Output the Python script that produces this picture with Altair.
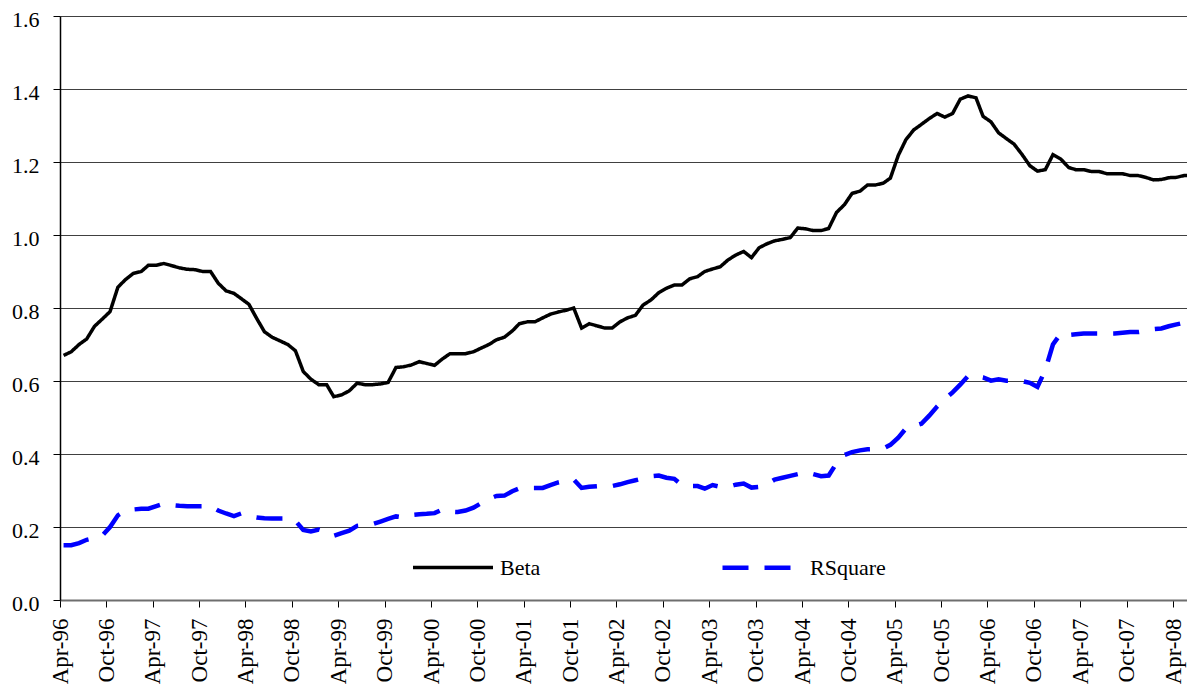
import altair as alt
import pandas as pd

# Monthly observations, Apr-96 .. Jun-08 (147 months)
start_year, start_month = 1996, 4

beta = [
    0.670, 0.680, 0.700, 0.715, 0.750, 0.770, 0.790, 0.857, 0.878, 0.895,
    0.900, 0.917, 0.917, 0.922, 0.916, 0.910, 0.906, 0.905, 0.900, 0.900,
    0.868, 0.847, 0.840, 0.826, 0.810, 0.772, 0.735, 0.720, 0.710, 0.700,
    0.683, 0.626, 0.605, 0.590, 0.590, 0.557, 0.562, 0.573, 0.594, 0.590,
    0.590, 0.592, 0.596, 0.637, 0.639, 0.644, 0.653, 0.648, 0.643, 0.660,
    0.675, 0.675, 0.675, 0.680, 0.690, 0.700, 0.713, 0.720, 0.737, 0.757,
    0.762, 0.762, 0.773, 0.783, 0.789, 0.794, 0.800, 0.745, 0.757, 0.751,
    0.745, 0.745, 0.762, 0.773, 0.780, 0.808, 0.822, 0.842, 0.854, 0.863,
    0.863, 0.880, 0.886, 0.900, 0.907, 0.913, 0.932, 0.945, 0.955, 0.938,
    0.965, 0.976, 0.984, 0.988, 0.993, 1.019, 1.017, 1.012, 1.012, 1.018,
    1.062, 1.083, 1.114, 1.120, 1.137, 1.137, 1.142, 1.156, 1.218, 1.261,
    1.288, 1.303, 1.319, 1.333, 1.323, 1.333, 1.372, 1.381, 1.376, 1.325,
    1.310, 1.280, 1.264, 1.249, 1.221, 1.190, 1.175, 1.179, 1.220, 1.208,
    1.185, 1.179, 1.179, 1.174, 1.174, 1.168, 1.168, 1.168, 1.163, 1.163,
    1.158, 1.151, 1.152, 1.157, 1.158, 1.163, 1.163,
]

rsquare = [
    0.150, 0.150, 0.156, 0.165, 0.170, 0.177, 0.200, 0.232, 0.245, 0.248,
    0.250, 0.250, 0.257, 0.264, 0.260, 0.258, 0.257, 0.257, 0.257, 0.257,
    0.245, 0.237, 0.230, 0.237, 0.230, 0.226, 0.224, 0.223, 0.223, 0.223,
    0.217, 0.192, 0.188, 0.193, 0.186, 0.176, 0.183, 0.190, 0.203, 0.205,
    0.208, 0.215, 0.222, 0.229, 0.226, 0.233, 0.235, 0.236, 0.238, 0.248,
    0.242, 0.241, 0.245, 0.253, 0.265, 0.277, 0.285, 0.286, 0.298, 0.306,
    0.307, 0.307, 0.307, 0.315, 0.322, 0.327, 0.330, 0.307, 0.310, 0.312,
    0.312, 0.312, 0.317, 0.323, 0.328, 0.333, 0.339, 0.341, 0.335, 0.332,
    0.315, 0.312, 0.312, 0.305, 0.315, 0.310, 0.310, 0.316, 0.319, 0.308,
    0.310, 0.317, 0.330, 0.335, 0.340, 0.345, 0.350, 0.345, 0.339, 0.341,
    0.375, 0.397, 0.405, 0.410, 0.413, 0.414, 0.415, 0.425, 0.445, 0.470,
    0.476, 0.483, 0.505, 0.530, 0.550, 0.569, 0.590, 0.614, 0.614, 0.610,
    0.601, 0.605, 0.601, 0.601, 0.600, 0.595, 0.584, 0.630, 0.700, 0.730,
    0.726, 0.728, 0.730, 0.730, 0.730, 0.730, 0.730, 0.732, 0.734, 0.734,
    0.737, 0.742, 0.744, 0.750, 0.755, 0.760, 0.766,
]

series_names = ["Beta", "RSquare"]
series_colors = ["#000000", "#0000FF"]
y_ticks = [0.0, 0.2, 0.4, 0.6, 0.8, 1.0, 1.2, 1.4, 1.6]

def month_date(k):
    y = start_year + (start_month - 1 + k) // 12
    m = (start_month - 1 + k) % 12 + 1
    return f"{y:04d}-{m:02d}-15"

dates = [month_date(k) for k in range(len(beta))]
df = pd.concat([
    pd.DataFrame({"date": dates, "value": beta, "series": "Beta"}),
    pd.DataFrame({"date": dates, "value": rsquare, "series": "RSquare"}),
])

tick_dates = []
for yr in range(1996, 2009):
    for mo in (4, 10):
        if (yr, mo) <= (2008, 4):
            tick_dates.append(alt.DateTime(year=yr, month=mo, date=1, utc=True))

FONT = "Liberation Serif"

legend = alt.Legend(
    title=None, orient="none", direction="horizontal",
    legendX=351, legendY=509,
    symbolType="stroke", symbolSize=6400, symbolStrokeWidth=4,
    labelFont=FONT, labelFontSize=22, labelColor="#000000",
    labelOffset=5, columnPadding=172,
)

chart = alt.Chart(df).mark_line(strokeCap="butt").encode(
    x=alt.X(
        "date:T",
        scale=alt.Scale(
            type="utc",
            domain=[alt.DateTime(year=1996, month=4, date=1, utc=True),
                    alt.DateTime(year=2008, month=5, date=26, utc=True)],
        ),
        axis=alt.Axis(
            values=tick_dates, format="%b-%y", labelAngle=-90,
            labelFont=FONT, labelFontSize=23, labelColor="#000000",
            labelPadding=11, tickSize=7, tickColor="#000000", tickWidth=1,
            domainColor="#6e6e6e", domainWidth=2, grid=False,
            labelOverlap=False, labelFlush=False, title=None,
        ),
    ),
    y=alt.Y(
        "value:Q",
        scale=alt.Scale(domain=[0, 1.6], nice=False, zero=True),
        axis=alt.Axis(
            values=y_ticks, format=".1f",
            labelFont=FONT, labelFontSize=22, labelColor="#000000",
            labelPadding=14, labelOffset=3, tickSize=7, tickColor="#000000",
            domainColor="#000000", domainWidth=1.5,
            grid=True, gridColor="#404040", gridWidth=1, title=None,
        ),
    ),
    color=alt.Color(
        "series:N",
        scale=alt.Scale(domain=series_names, range=series_colors),
        legend=legend,
    ),
    strokeDash=alt.StrokeDash(
        "series:N",
        scale=alt.Scale(domain=series_names, range=[[1, 0], [26, 16]]),
        legend=legend,
    ),
    strokeWidth=alt.StrokeWidth(
        "series:N",
        scale=alt.Scale(domain=series_names, range=[3.5, 4.5]),
        legend=None,
    ),
).properties(
    width=1127, height=584,
    padding={"left": 52, "top": 8, "right": 0, "bottom": 84},
    autosize=alt.AutoSizeParams(type="none"),
).configure_view(stroke=None).configure(background="#ffffff")

chart.save("out.html", embed_options={"renderer": "svg", "actions": False})
